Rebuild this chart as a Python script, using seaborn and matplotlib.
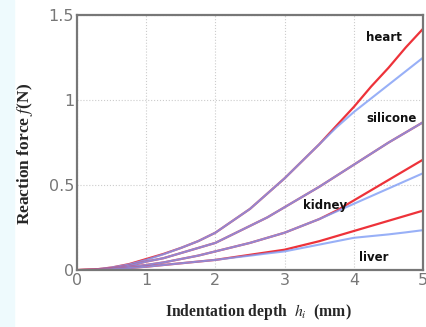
import numpy as np
import pandas as pd
import matplotlib
matplotlib.use('Agg')
import matplotlib.pyplot as plt
import matplotlib.patches as mpatches
import seaborn as sns

# depth samples (mm) and reaction force (N)
depth = [0, 0.25, 0.5, 0.75, 1, 1.25, 1.5, 1.75, 2, 2.25, 2.5,
         2.75, 3, 3.25, 3.5, 3.75, 4, 4.25, 4.5, 4.75, 5]

heart_exp = [0, .003, .015, .035, .065, .095, .13, .17, .22, .29, .36,
             .45, .54, .64, .74, .85, .96, 1.08, 1.19, 1.31, 1.42]
heart_fit = [0, .003, .015, .033, .06, .093, .13, .17, .22, .29, .36,
             .45, .54, .64, .74, .84, .93, 1.01, 1.09, 1.17, 1.25]
silicone_exp = [0, .002, .01, .025, .05, .07, .10, .13, .16, .21, .26,
                .31, .37, .43, .49, .555, .62, .685, .75, .81, .87]
silicone_fit = [0, .002, .01, .025, .05, .07, .10, .13, .16, .21, .26,
                .31, .37, .43, .49, .555, .62, .685, .75, .81, .87]
kidney_exp = [0, .002, .008, .018, .03, .045, .065, .085, .11, .135, .16,
              .19, .22, .26, .30, .35, .41, .47, .53, .59, .65]
kidney_fit = [0, .002, .008, .018, .03, .045, .065, .085, .11, .135, .16,
              .19, .22, .26, .30, .345, .39, .435, .48, .525, .57]
liver_exp = [0, .001, .005, .012, .02, .03, .04, .05, .06, .075, .09,
             .105, .12, .145, .17, .20, .23, .26, .29, .32, .35]
liver_fit = [0, .001, .005, .012, .02, .03, .04, .05, .06, .073, .085,
             .098, .11, .13, .15, .17, .19, .20, .21, .222, .235]

tissues = ['heart', 'silicone', 'kidney', 'liver']
label_x = [4.44, 4.54, 3.58, 4.29]
label_y = [1.365, 0.89, 0.38, 0.076]

rows = []
for name, exp, fit in zip(tissues,
                          [heart_exp, silicone_exp, kidney_exp, liver_exp],
                          [heart_fit, silicone_fit, kidney_fit, liver_fit]):
    for d, e, f in zip(depth, exp, fit):
        rows.append((name, 'exp', d, e))
        rows.append((name, 'fit', d, f))
df = pd.DataFrame(rows, columns=['tissue', 'kind', 'depth', 'force'])

sns.set_style('white')
plt.rcParams['mathtext.fontset'] = 'stix'

fig = plt.figure(figsize=(4.27, 3.27), dpi=100)
fig.patches.append(mpatches.Rectangle((0, 0), 14 / 427, 1, transform=fig.transFigure,
                                      color='#eefafd', zorder=0))
ax = fig.add_axes([0.180, 0.174, 0.811, 0.780])

for name in tissues:
    sub = df[df['tissue'] == name]
    sns.lineplot(data=sub[sub['kind'] == 'exp'], x='depth', y='force', ax=ax,
                 color='#ec1c24', lw=1.6, alpha=0.9)
    sns.lineplot(data=sub[sub['kind'] == 'fit'], x='depth', y='force', ax=ax,
                 color='#7f9cf5', lw=1.5, alpha=0.8)

for name, lx, ly in zip(tissues, label_x, label_y):
    ax.text(lx, ly, name, ha='center', va='center', fontsize=8.5,
            fontweight='bold', family='DejaVu Sans', color='#111111')

ax.set_xlim(0, 5)
ax.set_ylim(0, 1.5)
ax.set_xticks([0, 1, 2, 3, 4, 5])
ax.set_yticks([0, 0.5, 1, 1.5])
ax.set_xticklabels(['0', '1', '2', '3', '4', '5'])
ax.set_yticklabels(['0', '0.5', '1', '1.5'])
ax.tick_params(axis='both', labelsize=11.5, labelcolor='#777777', direction='in',
               length=3, color='#777777', pad=2)
ax.grid(True, color='#cccccc', ls=':', lw=0.8)
for sp in ax.spines.values():
    sp.set_color('#777777')
    sp.set_linewidth(1.6)

ax.set_xlabel(r'Indentation depth  $h_i$  (mm)', fontsize=11.3, fontweight='bold',
              family='Liberation Serif', labelpad=7)
ax.xaxis.set_label_coords(0.523, -0.125)
ax.set_ylabel(r'Reaction force $f$(N)', fontsize=12.5, fontweight='bold',
              family='Liberation Serif')
ax.yaxis.set_label_coords(-0.12, 0.455)

fig.savefig('out.png', dpi=100)
